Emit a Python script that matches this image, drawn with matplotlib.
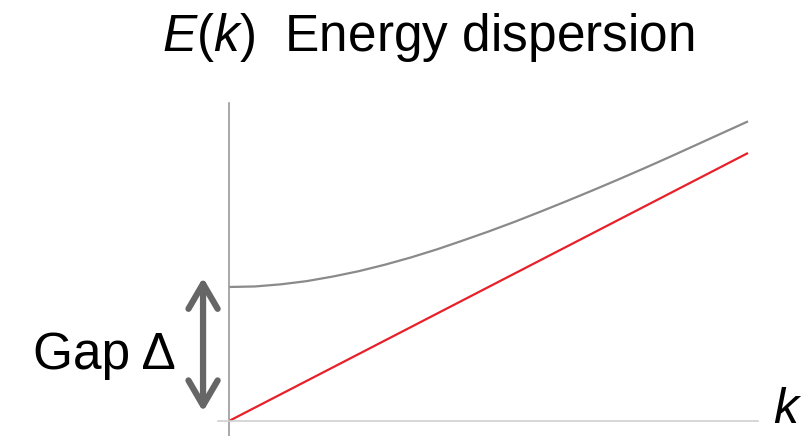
import numpy as np
import matplotlib
matplotlib.use("Agg")
import matplotlib.pyplot as plt
from matplotlib.lines import Line2D

plt.rcParams['font.family'] = ['Liberation Sans', 'DejaVu Sans']
plt.rcParams['mathtext.fontset'] = 'custom'
plt.rcParams['mathtext.rm'] = 'Liberation Sans'
plt.rcParams['mathtext.it'] = 'Liberation Sans:italic'

# values (k and E in units of the red line's end value)
k_vals = [0.0, 0.05, 0.1, 0.15, 0.2, 0.25, 0.3, 0.35, 0.4, 0.45, 0.5,
          0.55, 0.6, 0.65, 0.7, 0.75, 0.8, 0.85, 0.9, 0.95, 1.0]
e_gapped = [0.500, 0.502, 0.510, 0.522, 0.539, 0.559, 0.583, 0.610, 0.640,
            0.673, 0.707, 0.743, 0.781, 0.820, 0.860, 0.901, 0.943, 0.986,
            1.030, 1.074, 1.118]
e_linear = [0.0, 0.05, 0.1, 0.15, 0.2, 0.25, 0.3, 0.35, 0.4, 0.45, 0.5,
            0.55, 0.6, 0.65, 0.7, 0.75, 0.8, 0.85, 0.9, 0.95, 1.0]
gap_lo, gap_hi = 0.035, 0.535

W, H = 810, 436
fig = plt.figure(figsize=(W / 100, H / 100), dpi=100)
# axes box: origin at pixel (229, 421), top at 103, right end 758
ax = fig.add_axes([229 / W, (H - 421) / H, (758 - 229) / W, (421 - 103) / H])
ax.set_xlim(0, 529 / 519)
ax.set_ylim(0, 318 / 268)
ax.axis('off')

ax.plot(k_vals, e_gapped, color='#8a8a8a', lw=1.6, solid_capstyle='butt')
ax.plot(k_vals, e_linear, color='#e8202a', lw=1.6, solid_capstyle='butt')

# axis lines (vertical runs down past the origin, horizontal starts left of it)
ax.add_line(Line2D([0, 0], [-15 / 318, 1], transform=ax.transAxes,
                   color='#9a9a9a', lw=1.2, clip_on=False))
ax.add_line(Line2D([-11 / 529, 1], [0, 0], transform=ax.transAxes,
                   color='#d0d0d0', lw=1.2, clip_on=False))

# gap arrow
ax.annotate('', xy=(-0.05, gap_lo), xytext=(-0.05, gap_hi),
            arrowprops=dict(arrowstyle='<->,head_length=0.6,head_width=0.35',
                            color='#666666', lw=4.5, mutation_scale=30,
                            shrinkA=0, shrinkB=0),
            annotation_clip=False)

fig.text(428 / W, 1 - 38 / H, r'$E$($k$)  Energy dispersion', fontsize=37,
         ha='center', va='center', color='black')
fig.text(104 / W, 1 - 355 / H, 'Gap Δ', fontsize=37, ha='center', va='center')
fig.text(786 / W, 1 - 410 / H, 'k', fontsize=36, style='italic',
         ha='center', va='center')

fig.savefig('out.png', dpi=100)
